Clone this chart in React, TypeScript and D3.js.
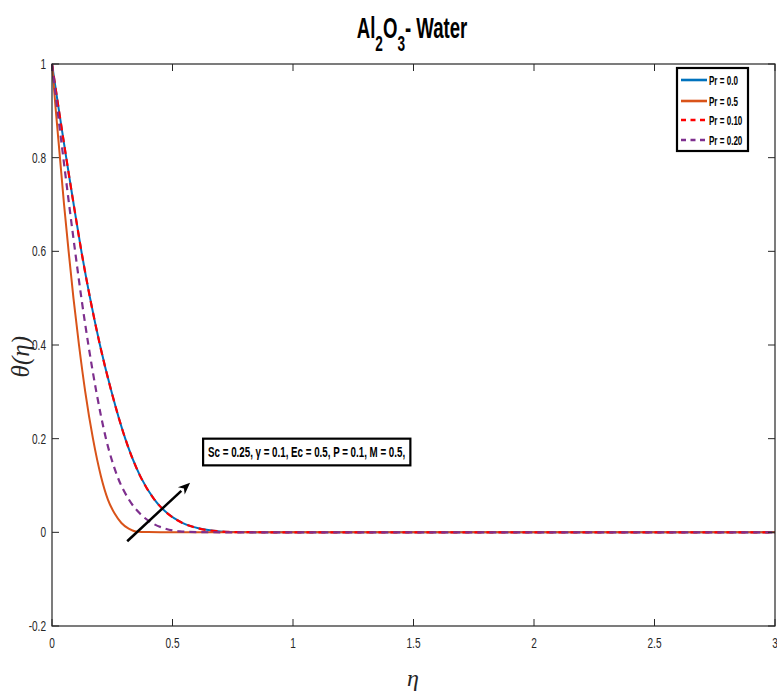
import React from "react";
import * as d3 from "d3";

// ---- data ----
const etaPr00 = [0, 0.029, 0.059, 0.09, 0.122, 0.158, 0.199, 0.247, 0.304, 0.366, 0.425, 0.48, 0.541, 0.612, 0.698, 0.77, 1.0, 3];
const thetaPr00 = [1, 0.9, 0.8, 0.7, 0.6, 0.5, 0.4, 0.3, 0.2, 0.12, 0.07, 0.04, 0.02, 0.008, 0.002, 0.0005, 0, 0];

const etaPr05 = [0, 0.016, 0.033, 0.05, 0.069, 0.089, 0.112, 0.138, 0.17, 0.203, 0.232, 0.26, 0.288, 0.318, 0.348, 0.4, 0.5, 3];
const thetaPr05 = [1, 0.9, 0.8, 0.7, 0.6, 0.5, 0.4, 0.3, 0.2, 0.12, 0.07, 0.04, 0.02, 0.008, 0.002, 0.0005, 0, 0];

const etaPr010 = [0, 0.029, 0.059, 0.09, 0.122, 0.158, 0.199, 0.247, 0.304, 0.366, 0.425, 0.48, 0.541, 0.612, 0.698, 0.77, 1.0, 3];
const thetaPr010 = [1, 0.9, 0.8, 0.7, 0.6, 0.5, 0.4, 0.3, 0.2, 0.12, 0.07, 0.04, 0.02, 0.008, 0.002, 0.0005, 0, 0];

const etaPr020 = [0, 0.023, 0.047, 0.071, 0.096, 0.122, 0.151, 0.184, 0.224, 0.271, 0.319, 0.365, 0.415, 0.47, 0.53, 0.6, 0.75, 3];
const thetaPr020 = [1, 0.9, 0.8, 0.7, 0.6, 0.5, 0.4, 0.3, 0.2, 0.12, 0.07, 0.04, 0.02, 0.008, 0.002, 0.0005, 0, 0];

const seriesLabels = ["Pr = 0.0", "Pr = 0.5", "Pr = 0.10", "Pr = 0.20"];
const xTicks = [0, 0.5, 1, 1.5, 2, 2.5, 3];
const yTicks = [-0.2, 0, 0.2, 0.4, 0.6, 0.8, 1];
const annotationText = "Sc = 0.25, \u03B3 = 0.1,  Ec =  0.5, P = 0.1, M = 0.5,";
// annotation anchors in data units
const arrowFrom = [0.312, -0.019];
const arrowTo = [0.573, 0.106];
const boxCorner = [0.627, 0.2];
const boxCorner2 = [1.487, 0.143];

const W = 777;
const H = 693;
const left = 52;
const right = 775;
const top = 64;
const bottom = 626;

const sans = "'Liberation Sans', Arial, sans-serif";
const serif = "'Liberation Serif', 'DejaVu Serif', serif";
const axisColor = "#262626";

function Narrow({ x, y, sx, anchor, size, bold, fill, children }: any) {
  return (
    <g transform={`translate(${x},${y}) scale(${sx},1)`}>
      <text x={0} y={0} textAnchor={anchor} fontFamily={sans} fontSize={size} fontWeight={bold ? "bold" : "normal"} fill={fill}>
        {children}
      </text>
    </g>
  );
}

export default function App() {
  const x = d3.scaleLinear().domain([0, 3]).range([left, right]);
  const y = d3.scaleLinear().domain([-0.2, 1]).range([bottom, top]);
  const line = d3
    .line<[number, number]>()
    .x((d) => x(d[0]))
    .y((d) => y(d[1]))
    .curve(d3.curveMonotoneX);

  const series = [
    { eta: etaPr00, theta: thetaPr00, color: "#0072BD", dash: "", width: 2 },
    { eta: etaPr05, theta: thetaPr05, color: "#D95319", dash: "", width: 2 },
    { eta: etaPr010, theta: thetaPr010, color: "#FF0000", dash: "7,5", width: 2.2 },
    { eta: etaPr020, theta: thetaPr020, color: "#7E2F8E", dash: "7,5", width: 2.2 },
  ];

  const tickLen = 7;
  const ax = x(arrowFrom[0]);
  const ay = y(arrowFrom[1]);
  const bx = x(arrowTo[0]);
  const by = y(arrowTo[1]);
  const ang = Math.atan2(by - ay, bx - ax);
  const hl = 12;
  const hw = 5;
  const baseX = bx - hl * Math.cos(ang);
  const baseY = by - hl * Math.sin(ang);
  const head = [
    [bx, by],
    [baseX + hw * Math.sin(ang), baseY - hw * Math.cos(ang)],
    [bx - hl * 0.7 * Math.cos(ang), by - hl * 0.7 * Math.sin(ang)],
    [baseX - hw * Math.sin(ang), baseY + hw * Math.cos(ang)],
  ];

  const legendRows = [80, 101, 120, 140];
  const bx0 = x(boxCorner[0]);
  const by0 = y(boxCorner[1]);
  const bx1 = x(boxCorner2[0]);
  const by1 = y(boxCorner2[1]);

  return (
    <div style={{ position: "absolute", left: 0, top: 0, width: W, height: H, background: "#fff" }}>
      <svg width={W} height={H} style={{ display: "block" }}>
        <rect width={W} height={H} fill="#fff" />
        {/* title */}
        <g transform="translate(412,38) scale(0.62,1)">
          <text x={0} y={0} textAnchor="middle" fontFamily={sans} fontWeight="bold" fontSize={30} fill="#000">
            <tspan>Al</tspan>
            <tspan dy={13} fontSize={22}>2</tspan>
            <tspan dy={-13}>O</tspan>
            <tspan dy={13} fontSize={22}>3</tspan>
            <tspan dy={-13}>- Water</tspan>
          </text>
        </g>

        {/* curves */}
        <g fill="none">
          {series.map((s, i) => (
            <path
              key={i}
              d={line(s.eta.map((e, j) => [e, s.theta[j]] as [number, number])) || ""}
              stroke={s.color}
              strokeWidth={s.width}
              strokeDasharray={s.dash || undefined}
            />
          ))}
        </g>

        {/* axes box */}
        <rect x={left} y={top} width={right - left} height={bottom - top} fill="none" stroke={axisColor} strokeWidth={1.2} />
        {xTicks.map((t) => (
          <g key={"x" + t}>
            <line x1={x(t)} x2={x(t)} y1={bottom} y2={bottom - tickLen} stroke={axisColor} />
            <line x1={x(t)} x2={x(t)} y1={top} y2={top + tickLen} stroke={axisColor} />
            <Narrow x={x(t)} y={648} sx={0.72} anchor="middle" size={14} fill={axisColor}>
              {String(t)}
            </Narrow>
          </g>
        ))}
        {yTicks.map((t) => (
          <g key={"y" + t}>
            <line x1={left} x2={left + tickLen} y1={y(t)} y2={y(t)} stroke={axisColor} />
            <line x1={right} x2={right - tickLen} y1={y(t)} y2={y(t)} stroke={axisColor} />
            <Narrow x={46} y={y(t) + 5} sx={0.72} anchor="end" size={14} fill={axisColor}>
              {String(Math.round(t * 10) / 10)}
            </Narrow>
          </g>
        ))}

        {/* axis labels */}
        <text x={413} y={686} textAnchor="middle" fontFamily={serif} fontStyle="italic" fontSize={24} fill={axisColor}>
          η
        </text>
        <text
          transform={`translate(29,${y(0.375)}) rotate(-90)`}
          textAnchor="middle"
          fontFamily={serif}
          fontStyle="italic"
          fontSize={25}
          fill={axisColor}
        >
          θ(η)
        </text>

        {/* legend */}
        <rect x={677} y={68} width={71} height={83} fill="#fff" stroke="#000" strokeWidth={2.2} />
        {series.map((s, i) => (
          <g key={"l" + i}>
            <line
              x1={681}
              x2={707}
              y1={legendRows[i]}
              y2={legendRows[i]}
              stroke={s.color}
              strokeWidth={2.6}
              strokeDasharray={s.dash ? "5,4.5" : undefined}
            />
            <Narrow x={709} y={legendRows[i] + 4.5} sx={0.62} size={13} bold fill="#000">
              {seriesLabels[i]}
            </Narrow>
          </g>
        ))}

        {/* annotation box */}
        <rect x={bx0} y={by0} width={bx1 - bx0} height={by1 - by0} fill="#fff" stroke="#000" strokeWidth={2.2} />
        <text
          x={bx0 + 5}
          y={(by0 + by1) / 2 + 5}
          fontFamily={sans}
          fontWeight="bold"
          fontSize={14}
          fill="#000"
          textLength={197}
          lengthAdjust="spacingAndGlyphs"
        >
          {annotationText}
        </text>

        {/* arrow */}
        <line x1={ax} y1={ay} x2={baseX} y2={baseY} stroke="#000" strokeWidth={2.5} />
        <polygon points={head.map((p) => p.join(",")).join(" ")} fill="#000" />
      </svg>
    </div>
  );
}
